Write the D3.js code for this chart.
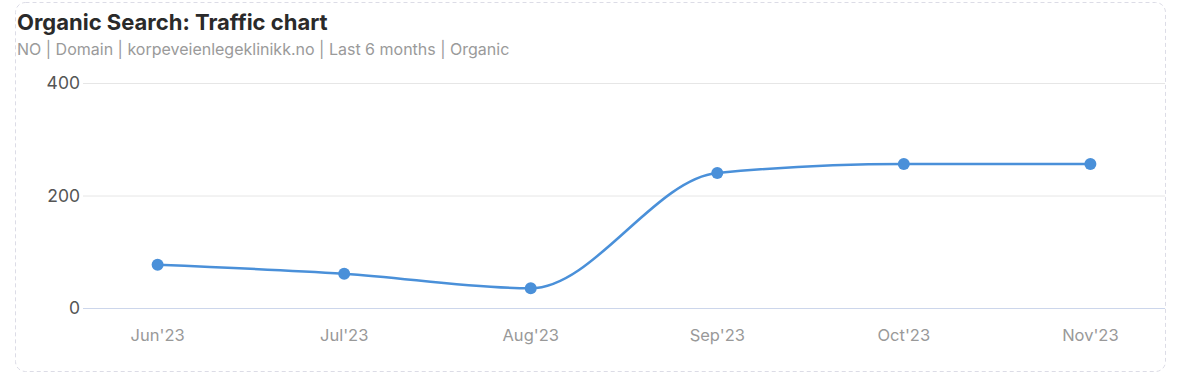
<!DOCTYPE html>
<html><head><meta charset="utf-8">
<script src="https://cdn.jsdelivr.net/npm/d3@7"></script>
<style>
html,body{margin:0;padding:0;background:#fff;}
svg{display:block;font-family:Inter, "Noto Sans", sans-serif;}
</style></head>
<body><svg id="c" width="1184" height="384"></svg>
<script>
const categories = ["Jun'23","Jul'23","Aug'23","Sep'23","Oct'23","Nov'23"];
const traffic = [77, 61, 35, 240, 256, 256];
const yTicks = [0, 200, 400];
const titleText = "Organic Search: Traffic chart";
const subtitleText = "NO | Domain | korpeveienlegeklinikk.no | Last 6 months | Organic";

const svg = d3.select("#c");
svg.append("rect").attr("x",15.5).attr("y",2.5).attr("width",1150).attr("height",369)
  .attr("rx",10).attr("fill","#fff").attr("stroke","#dcdce6").attr("stroke-dasharray","4,3");

svg.append("text").attr("x",17).attr("y",30).attr("font-size",22).attr("font-weight",700)
  .attr("fill","#2a2a2a").text(titleText);
svg.append("text").attr("x",17).attr("y",55).attr("font-size",16).attr("fill","#9a9a9a").text(subtitleText);

const x = d3.scalePoint().domain(categories).range([83,1165]).padding(0.4);
const y = d3.scaleLinear().domain([0,400]).range([308,83]);

const gy = svg.append("g");
gy.selectAll("line").data(yTicks).join("line")
  .attr("x1",83).attr("x2",1165).attr("y1",d=>y(d)+0.5).attr("y2",d=>y(d)+0.5)
  .attr("stroke",d=>d===0?"#ccd6eb":"#e6e6e6").attr("stroke-width",1);
gy.selectAll("text").data(yTicks).join("text")
  .attr("x",80).attr("y",d=>y(d)+6).attr("text-anchor","end").attr("font-size",17.5)
  .attr("fill","#555").text(d=>d);

svg.append("g").selectAll("text").data(categories).join("text")
  .attr("x",d=>x(d)).attr("y",341).attr("text-anchor","middle").attr("font-size",16.5)
  .attr("fill","#999").text(d=>d);

const line = d3.line().x((d,i)=>x(categories[i])).y(d=>y(d)).curve(d3.curveMonotoneX);
svg.append("path").datum(traffic).attr("d",line).attr("fill","none")
  .attr("stroke","#4a90d9").attr("stroke-width",2.5);
svg.append("g").selectAll("circle").data(traffic).join("circle")
  .attr("cx",(d,i)=>x(categories[i])).attr("cy",d=>y(d)).attr("r",6).attr("fill","#4a90d9");
</script></body></html>
